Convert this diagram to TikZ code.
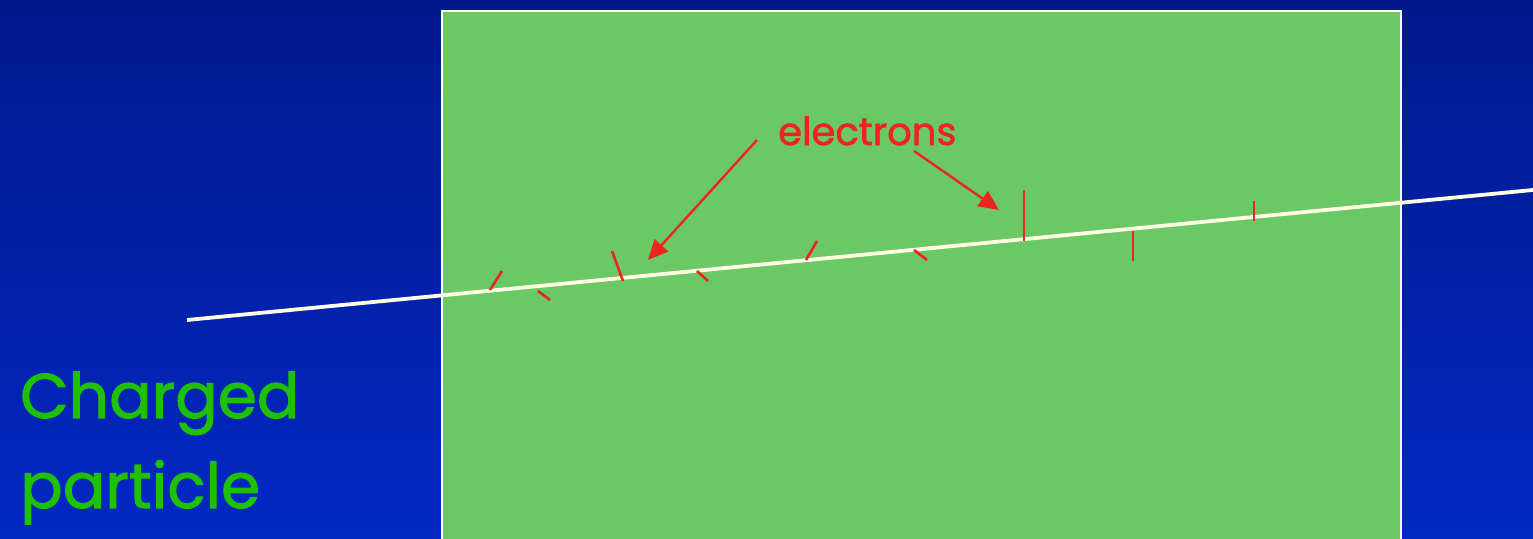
\documentclass[tikz,border=0pt]{standalone}
\usepackage{fontspec}
\usetikzlibrary{arrows.meta}
\newfontfamily\comic[FakeBold=1.6]{Poppins}
\definecolor{bgtop}{RGB}{0,26,140}
\definecolor{bgbot}{RGB}{3,40,196}
\definecolor{slab}{RGB}{106,201,100}
\definecolor{track}{RGB}{255,252,228}
\definecolor{ered}{RGB}{240,34,34}
\definecolor{pgreen}{RGB}{30,192,0}
\tikzset{
  tick/.style={draw=ered, line width=2.6pt},
  pointer/.style={draw=ered, line width=2.4pt, -{Triangle[length=20pt,width=18pt]}},
  lbl/.style={inner sep=0pt, anchor=base west},
}
\begin{document}
\begin{tikzpicture}[x=1pt,y=-1pt]
\shade[top color=bgtop, bottom color=bgbot] (0,0) rectangle (1533,538);
\useasboundingbox (0,0) rectangle (1533,538);
% green slab
\node[draw=white, line width=2pt, fill=slab, minimum width=959pt, minimum height=540pt, inner sep=0pt, anchor=north west] (slab) at (441,10) {};
% track
\coordinate (tA) at (187,320);
\coordinate (tB) at (1540,189.3);
\draw[track, line width=3.8pt] (tA) -- (tB);
% electron ticks
\draw[tick] (490,290) -- (502,271);
\draw[tick] (538,291) -- (550,300);
\draw[tick] (612,251) -- (623,281);
\draw[tick] (697,271) -- (708,281);
\draw[tick] (817,241) -- (806,260);
\draw[tick] (914,250) -- (927,260);
\draw[tick] (1024,190) -- (1024,241);
\draw[tick] (1133,231) -- (1133,261);
\draw[tick] (1254,201) -- (1254,221);
% labels
\node[lbl, text=ered, font=\comic\fontsize{38.5}{44}\selectfont] (el) at (778,145) {electrons};
\node[lbl, text=pgreen, font=\comic\fontsize{63}{90}\selectfont] (ch) at (20,418) {Charged};
\node[lbl, text=pgreen, font=\comic\fontsize{63}{90}\selectfont] (pa) at (20,508) {particle};
% arrows
\coordinate (a1s) at (757,140);
\coordinate (a1e) at (648,260);
\coordinate (a2s) at (914,151);
\coordinate (a2e) at (999,210);
\draw[pointer] (a1s) -- (a1e);
\draw[pointer] (a2s) -- (a2e);
\end{tikzpicture}
\end{document}
